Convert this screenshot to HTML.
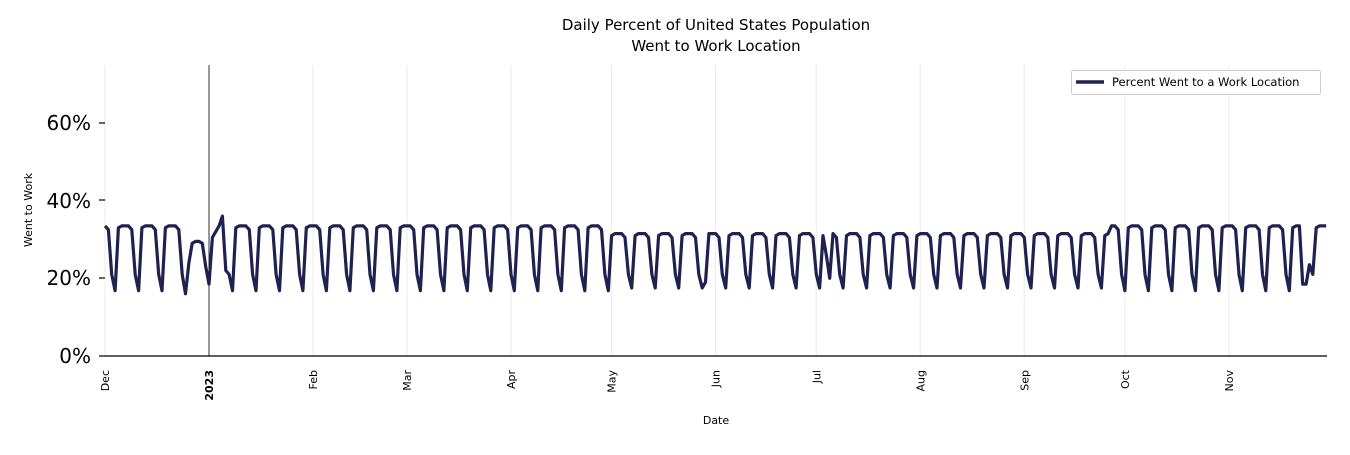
<!DOCTYPE html>
<html><head><meta charset="utf-8"><style>
body{margin:0;background:#fff;width:1350px;height:450px;overflow:hidden;font-family:"Liberation Sans","DejaVu Sans",sans-serif}
</style></head><body>
<svg id="s" width="1350" height="450" xmlns="http://www.w3.org/2000/svg" font-family="DejaVu Sans, Liberation Sans, sans-serif">
<text x="716" y="30" font-size="15" text-anchor="middle">Daily Percent of United States Population</text>
<text x="716" y="51" font-size="15" text-anchor="middle">Went to Work Location</text>
<g id="grid" stroke="#ebebeb" stroke-width="1"></g>
<line x1="209" y1="65" x2="209" y2="356" stroke="#000" stroke-width="0.8"/>
<line x1="105" y1="356" x2="1327" y2="356" stroke="#000" stroke-width="1.2"/>
<g font-size="20" text-anchor="end">
<text x="91" y="363">0%</text><text x="91" y="285">20%</text><text x="91" y="208">40%</text><text x="91" y="130">60%</text>
</g>
<g stroke="#000" stroke-width="1.2">
<line x1="99" y1="356" x2="105" y2="356"/><line x1="99" y1="278" x2="105" y2="278"/><line x1="99" y1="200" x2="105" y2="200"/><line x1="99" y1="123" x2="105" y2="123"/>
</g>
<text transform="translate(32,210) rotate(-90)" font-size="11" text-anchor="middle">Went to Work</text>
<text x="716" y="424" font-size="11" text-anchor="middle">Date</text>
<g id="xt" font-size="11"></g>
<polyline id="ln" fill="none" stroke="#1f2150" stroke-width="3.2" stroke-linejoin="round"/>
<rect x="1071.5" y="70.5" width="249" height="24" fill="#fff" stroke="#ccc" rx="2"/>
<line x1="1076" y1="82" x2="1104" y2="82" stroke="#1f2150" stroke-width="3.5"/>
<text x="1112" y="86" font-size="11.5">Percent Went to a Work Location</text>
</svg>
<script>
var ns="http://www.w3.org/2000/svg";
var x0=105,pd=3.355;
function X(d){return x0+d*pd}
function Y(v){return 356-v*3.885}
var months=[["Dec",0],["2023",31],["Feb",62],["Mar",90],["Apr",121],["May",151],["Jun",182],["Jul",212],["Aug",243],["Sep",274],["Oct",304],["Nov",335]];
var g=document.getElementById("grid"),xt=document.getElementById("xt");
months.forEach(function(m){
 var x=X(m[1]);
 var l=document.createElementNS(ns,"line");l.setAttribute("x1",x);l.setAttribute("x2",x);l.setAttribute("y1",65);l.setAttribute("y2",356);g.appendChild(l);
 var t=document.createElementNS(ns,"text");t.setAttribute("transform","translate("+(x+4)+",370) rotate(-90)");t.setAttribute("text-anchor","end");
 if(m[0]=="2023")t.setAttribute("font-weight","bold");t.textContent=m[0];xt.appendChild(t);
});
var pts=[];
var wk=[33,33.5,33.5,33.5,32.5,21,16.8];
for(var d=0;d<365;d++){
 var dow=(d+3)%7;
 var v=wk[dow];
 if(dow<5 && d>150&&d<300) v-=2;
 if(dow==6 && d>150&&d<300) v=17.5;
 if(d>=24&&d<=31){v=[16,24,29,29.5,29.5,29,23,18.5][d-24];}
 if(d>=32&&d<=36){v=[30.5,32,33.5,36,22][d-32];}
 if(d==215){v=26}if(d==216){v=20}
 if(d==179){v=19}
 if(d==358||d==357){v=18.5}if(d==359){v=23.5}if(d==360){v=21}
 pts.push(X(d).toFixed(1)+","+Y(v).toFixed(1));
}
document.getElementById("ln").setAttribute("points",pts.join(" "));
</script>
</body></html>
